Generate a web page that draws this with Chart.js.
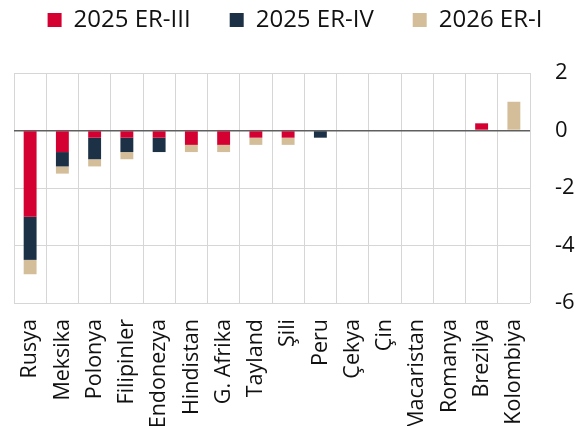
<!DOCTYPE html>
<html>
<head>
<meta charset="utf-8">
<script src="https://cdn.jsdelivr.net/npm/chart.js@4.4.1/dist/chart.umd.min.js"></script>
<style>
  html, body { margin: 0; padding: 0; background: #fff; }
  #wrap { width: 579px; height: 426px; }
</style>
</head>
<body>
<div id="wrap"><canvas id="erChart" width="579" height="426"></canvas></div>
<script>
// categories + series (percentage points)
const countries = ["Rusya", "Meksika", "Polonya", "Filipinler", "Endonezya", "Hindistan", "G. Afrika",
  "Tayland", "Şili", "Peru", "Çekya", "Çin", "Macaristan", "Romanya", "Brezilya", "Kolombiya"];
const er2025Q3 = [-3.0, -0.75, -0.25, -0.25, -0.25, -0.5, -0.5, -0.25, -0.25, 0, 0, 0, 0, 0, 0.25, 0];
const er2025Q4 = [-1.5, -0.5, -0.75, -0.5, -0.5, 0, 0, 0, 0, -0.25, 0, 0, 0, 0, 0, 0];
const er2026Q1 = [-0.5, -0.25, -0.25, -0.25, 0, -0.25, -0.25, -0.25, -0.25, 0, 0, 0, 0, 0, 0, 1.0];
const yTicks = [2, 0, -2, -4, -6];

const FONT = "'Open Sans', sans-serif";

// legend: wide gaps on one row, drawn close to the top edge
const legendTweak = {
  id: "legendTweak",
  beforeLayout(chart) {
    const lg = chart.legend;
    if (lg && !lg._wide) {
      const fit = lg.fit;
      lg.fit = function () {
        const mw = this.maxWidth;
        this.maxWidth = mw + 200;   // stop the third item wrapping
        fit.call(this);
        this.maxWidth = mw;
        this.width = Math.min(this.width, mw);
      };
      const draw = lg.draw;
      lg.draw = function () {
        // same centre, more room so nothing wraps while drawing
        this.left -= 100; this.right += 100;
        draw.call(this);
        this.left += 100; this.right -= 100;
      };
      lg._wide = true;
    }
  },
  afterLayout(chart) {
    const lg = chart.legend;
    if (lg) { lg.top -= 31; lg.bottom -= 31; }
  }
};

const ctx = document.getElementById("erChart");
new Chart(ctx, {
  type: "bar",
  data: {
    labels: countries,
    datasets: [
      { label: "2025 ER-III", data: er2025Q3, backgroundColor: "#D50032" },
      { label: "2025 ER-IV", data: er2025Q4, backgroundColor: "#1C3046" },
      { label: "2026 ER-I", data: er2026Q1, backgroundColor: "#D4BE9A" }
    ]
  },
  plugins: [legendTweak],
  options: {
    responsive: false,
    animation: false,
    datasets: { bar: { barPercentage: 0.4, categoryPercentage: 1 } },
    layout: { padding: { left: 14, right: 3, top: 0, bottom: 0 } },
    plugins: {
      legend: {
        position: "top",
        labels: {
          boxWidth: 14, boxHeight: 14, padding: 39,
          color: "#111", font: { family: FONT, size: 24 }
        }
      },
      tooltip: { enabled: false }
    },
    scales: {
      x: {
        stacked: true,
        border: { display: false },
        grid: { color: "#d6d6d6", lineWidth: 1, drawTicks: false, offset: true },
        afterFit: (axis) => { axis.height = 123; },
        ticks: {
          minRotation: 90, maxRotation: 90, autoSkip: false, padding: 16,
          color: "#111", font: { family: FONT, size: 21.5 }
        }
      },
      y: {
        stacked: true,
        position: "right",
        min: Math.min(...yTicks), max: Math.max(...yTicks),
        border: { display: false },
        grid: {
          drawTicks: false,
          color: (c) => c.tick && c.tick.value === 0 ? "#5f5f5f" : "#d6d6d6",
          lineWidth: (c) => c.tick && c.tick.value === 0 ? 1.6 : 1
        },
        afterBuildTicks: (axis) => { axis.ticks = yTicks.map(v => ({ value: v })); },
        afterFit: (axis) => { axis.width = 46; },
        ticks: {
          padding: 25, color: "#111", font: { family: FONT, size: 22 }
        }
      }
    }
  }
});
</script>
</body>
</html>
